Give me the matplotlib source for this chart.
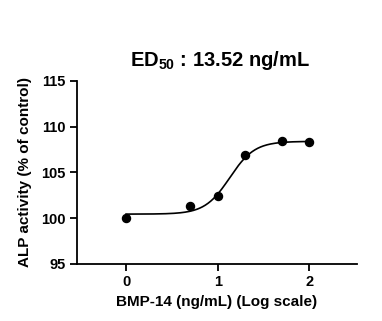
""" ALP activity vs BMP-14 dose, with a 4PL fit curve. """

import numpy as np
import matplotlib
matplotlib.use('Agg')
import matplotlib.pyplot as plt

plt.rcParams['font.family'] = ['Liberation Sans', 'DejaVu Sans']
plt.rcParams['font.weight'] = 'bold'
plt.rcParams['mathtext.fontset'] = 'custom'
plt.rcParams['mathtext.rm'] = 'Liberation Sans'
plt.rcParams['mathtext.bf'] = 'Liberation Sans:bold'

# Measured points (log10 of dose, % of control).
log_dose = [0, 0.7, 1.0, 1.3, 1.7, 2.0]
alp = [100.0, 101.3, 102.4, 106.9, 108.4, 108.35]

# Fit parameters of the curve (bottom, top, logEC50, hill slope).
bottom, top, log_ec50, hill = 100.45, 108.4, np.log10(13.52), 3.2

xs = np.linspace(0, 2, 200)
ys = bottom + (top - bottom) / (1 + 10 ** ((log_ec50 - xs) * hill))

fig = plt.figure(figsize=(3.82, 3.21), dpi=100)
ax = fig.add_axes([0.2016, 0.1776, 0.7330, 0.5701])

ax.plot(xs, ys, color='black', linewidth=1.2)
ax.plot(log_dose, alp, 'o', color='black', markersize=5.8)

ax.set_xlim(-0.535, 2.52)
ax.set_ylim(95, 115)
ax.set_xticks([0, 1, 2])
ax.set_yticks([95, 100, 105, 110, 115])
ax.spines['top'].set_visible(False)
ax.spines['right'].set_visible(False)
for s in ['left', 'bottom']:
    ax.spines[s].set_linewidth(1.3)
ax.tick_params(direction='out', length=5, width=1.3, labelsize=10.5, pad=3)
for lab in ax.get_xticklabels() + ax.get_yticklabels():
    lab.set_fontweight('bold')

ax.set_xlabel("BMP-14 (ng/mL) (Log scale)", fontsize=11, fontweight='bold', labelpad=4)
ax.set_ylabel("ALP activity (% of control)", fontsize=11, fontweight='bold', labelpad=7)
fig.text(0.575, 0.812, r"ED$_{\mathrm{50}}$ : 13.52 ng/mL", fontsize=14.5,
         fontweight='bold', ha='center', va='center')

fig.savefig('out.png', dpi=100)
